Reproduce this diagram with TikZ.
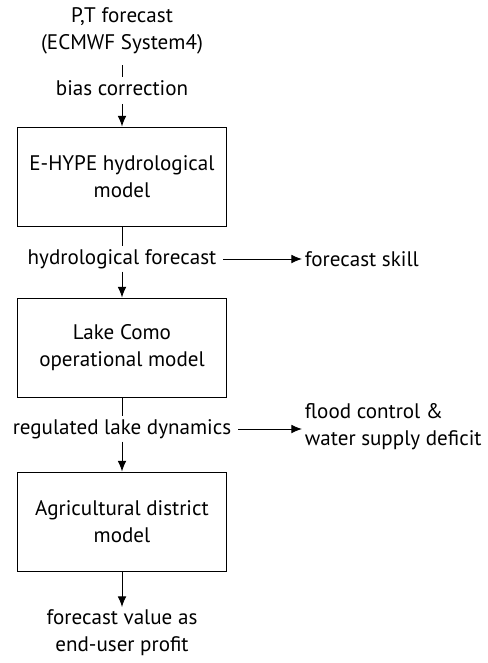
\documentclass[tikz,border=0pt]{standalone}
\usepackage{fontspec}
\setmainfont{PT Sans}
\usepackage{tikz}
\usetikzlibrary{arrows.meta}

\tikzset{
  box/.style={draw, line width=0.7pt, minimum width=156.75pt, minimum height=74.25pt, align=center},
  lbl/.style={align=center, inner sep=2pt},
  arr/.style={-{Latex[length=8pt,width=6.5pt]}, line width=0.7pt}
}

\begin{document}
\begin{tikzpicture}[x=0.75pt, y=-0.75pt, font=\fontsize{15.8}{20.25}\selectfont]
        \useasboundingbox (0,0) rectangle (488,663);
        % sources and models
        \node[lbl] (pt) at (122,31) {P,T forecast\\(ECMWF System4)};
        \node[lbl] (bias) at (122,88) {bias correction};
        \node[box] (hype) at (122,176.5) {E-HYPE hydrological\\model};
        \node[lbl] (hydro) at (122,259) {hydrological forecast};
        \node[lbl, anchor=west] (skill) at (302,259) {forecast skill};
        \node[box] (como) at (122,347.5) {Lake Como\\operational model};
        \node[lbl] (lake) at (122,429) {regulated lake dynamics};
        \node[lbl, anchor=west, align=left] (flood) at (302,427) {flood control \&\\water supply deficit};
        \node[box] (agri) at (122,521.5) {Agricultural district\\model};
        \node[lbl] (value) at (122,633) {forecast value as\\end-user profit};
        % connectors
        \draw[line width=0.7pt, shorten <=6pt] (pt) -- (bias);
        \draw[arr, shorten <=4pt] (bias) -- (hype);
        \draw[line width=0.7pt] (hype) -- (hydro);
        \draw[arr] (hydro) -- (como);
        \draw[arr, shorten <=3pt] (hydro) -- (skill);
        \draw[line width=0.7pt] (como) -- (lake);
        \draw[arr] (lake) -- (agri);
        \draw[arr, shorten <=3pt] (lake.east) -- (lake.east -| flood.west);
        \draw[arr] (agri) -- (value);
\end{tikzpicture}
\end{document}
